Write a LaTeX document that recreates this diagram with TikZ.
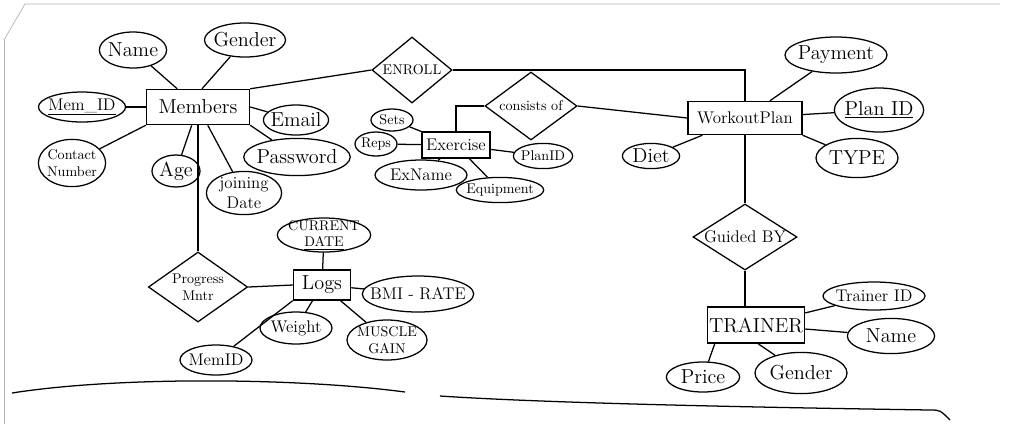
\documentclass[tikz,border=0pt]{standalone}
\usepackage{tikz}
\usetikzlibrary{shapes.geometric}

\begin{document}
\begin{tikzpicture}[x=0.025cm, y=-0.025cm, line width=0.9pt]
    \useasboundingbox (0,0) rectangle (1024,424);
    \tikzstyle {entity} = [shape=rectangle, draw=black, inner sep=1pt, font=\Large];
    \tikzstyle {attr} = [shape=ellipse, draw=black, inner sep=-2pt, font=\Large];
    \tikzstyle {rel} = [shape=diamond, draw=black, inner sep=0pt, font=\normalsize];
    %% paper edges
    \draw [gray!60, line width=0.5pt] (4,40) -- (4,424);
    \draw [gray!60, line width=0.5pt] (4,40) -- (25,4) -- (1000,4);
    \draw (12,393) .. controls (120,376) and (300,378) .. (405,392);
    \draw (440,396) .. controls (560,404) and (800,408) .. (930,410) .. controls (940,410) .. (950,420);
    %% Members
    \node (mem) [entity, minimum width=2.58cm, minimum height=0.88cm] at (198,107) {Members};
    \node (mname) [attr, minimum width=1.68cm, minimum height=0.9cm] at (133,50) {Name};
    \node (mgender) [attr, minimum width=1.85cm, minimum height=0.85cm] at (245,40) {Gender};
    \node (memid) [attr, minimum width=1.8cm, minimum height=0.75cm, font=\large] at (82,107) {\underline{Mem\_ID}};
    \node (contact) [attr, minimum width=1.68cm, minimum height=1.18cm, align=center, font=\normalsize] at (72,163) {Contact\\Number};
    \node (age) [attr, minimum width=1.2cm, minimum height=0.8cm] at (176,171) {Age};
    \node (join) [attr, minimum width=1.88cm, minimum height=1.08cm, align=center, font=\large] at (244,193) {joining\\Date};
    \node (email) [attr, minimum width=1.63cm, minimum height=0.75cm] at (296,120) {Email};
    \node (pass) [attr, minimum width=2.23cm, minimum height=0.93cm] at (297,157) {Password};
    \draw (mem) -- (mname);
    \draw (mem.north) ++(4,0) -- (mgender);
    \draw (mem) -- (memid);
    \draw (mem.south west) -- (contact);
    \draw (mem) -- (age);
    \draw (mem) -- (join);
    \draw (mem.east) -- (email);
    \draw (mem.south east) -- (pass);
    %% Enroll
    \node (enroll) [rel, aspect=1.2, minimum width=2.0cm, minimum height=1.65cm] at (412,70) {ENROLL};
    \draw (mem.north east) -- (enroll.west);
    %% Exercise
    \node (ex) [entity, minimum width=1.7cm, minimum height=0.65cm, font=\large] at (456,145) {Exercise};
    \node (sets) [attr, minimum width=1.05cm, minimum height=0.55cm, font=\normalsize] at (392,120) {Sets};
    \node (reps) [attr, minimum width=1.05cm, minimum height=0.6cm, font=\normalsize] at (376,144) {Reps};
    \node (exname) [attr, minimum width=2.3cm, minimum height=0.75cm, font=\large] at (421,175) {ExName};
    \node (equip) [attr, minimum width=2.15cm, minimum height=0.63cm, font=\normalsize] at (500,190) {Equipment};
    \node (explan) [attr, minimum width=1.48cm, minimum height=0.63cm, font=\normalsize] at (543,156) {PlanID};
    \draw (ex) -- (sets);
    \draw (ex) -- (reps);
    \draw (ex) -- (exname);
    \draw (ex) -- (equip);
    \draw (ex) -- (explan);
    %% consists of
    \node (cons) [rel, aspect=1.35, minimum width=2.3cm, minimum height=1.7cm] at (531,106) {consists of};
    \draw (ex.north) |- (cons.west);
    %% WorkoutPlan
    \node (wp) [entity, minimum width=2.85cm, minimum height=0.83cm, font=\large] at (745,118) {WorkoutPlan};
    \node (pay) [attr, minimum width=2.55cm, minimum height=0.9cm] at (836,55) {Payment};
    \node (planid) [attr, minimum width=2.2cm, minimum height=1.1cm] at (879,110) {\underline{Plan ID}};
    \node (type) [attr, minimum width=2.05cm, minimum height=0.98cm] at (857,158) {TYPE};
    \node (diet) [attr, minimum width=1.43cm, minimum height=0.63cm] at (651,156) {Diet};
    \draw (cons.east) -- (wp.west);
    \draw (enroll.east) -| (wp.north);
    \draw (wp) -- (pay);
    \draw (wp) -- (planid);
    \draw (wp.south east) -- (type);
    \draw (wp) -- (diet);
    %% Guided by / Trainer
    \node (guided) [rel, aspect=1.6, minimum width=2.6cm, minimum height=1.65cm, font=\large] at (745,237) {Guided BY};
    \node (tr) [entity, minimum width=2.43cm, minimum height=0.9cm] at (756,325) {TRAINER};
    \node (trid) [attr, minimum width=2.55cm, minimum height=0.7cm, font=\large] at (874,296) {Trainer ID};
    \node (trname) [attr, minimum width=2.18cm, minimum height=0.88cm] at (891,336) {Name};
    \node (price) [attr, minimum width=1.83cm, minimum height=0.75cm] at (703,377) {Price};
    \node (trgender) [attr, minimum width=2.3cm, minimum height=1.03cm] at (801,373) {Gender};
    \draw (wp.south) -- (guided.north);
    \draw (guided.south) -- (tr.north -| guided.south);
    \draw (tr) -- (trid);
    \draw (tr) -- (trname);
    \draw (tr.south west) ++(8,0) -- (price);
    \draw (tr.south) ++(2,0) -- (trgender);
    %% Progress / Logs
    \node (prog) [rel, aspect=1.4, minimum width=2.48cm, minimum height=1.75cm, align=center] at (198,287) {Progress\\Mntr};
    \node (logs) [entity, minimum width=1.43cm, minimum height=0.75cm] at (322,285) {Logs};
    \node (cdate) [attr, minimum width=1.8cm, minimum height=0.85cm, align=center, font=\normalsize] at (324,235) {CURRENT\\\underline{DATE}};
    \node (bmi) [attr, minimum width=2.78cm, minimum height=0.9cm, inner sep=-6pt, font=\large] at (418,294) {BMI - RATE};
    \node (muscle) [attr, minimum width=2.0cm, minimum height=1.0cm, align=center, font=\normalsize] at (387,340) {MUSCLE\\GAIN};
    \node (weight) [attr, minimum width=1.8cm, minimum height=0.8cm, font=\large] at (296,328) {Weight};
    \node (lmemid) [attr, minimum width=1.8cm, minimum height=0.75cm, font=\large] at (216,360) {MemID};
    \draw (mem.south) -- (prog.north);
    \draw (prog.east) -- (logs.west);
    \draw (logs) -- (cdate);
    \draw (logs) -- (bmi);
    \draw (logs) -- (muscle);
    \draw (logs) -- (weight);
    \draw (logs.south west) -- (lmemid);
\end{tikzpicture}
\end{document}
